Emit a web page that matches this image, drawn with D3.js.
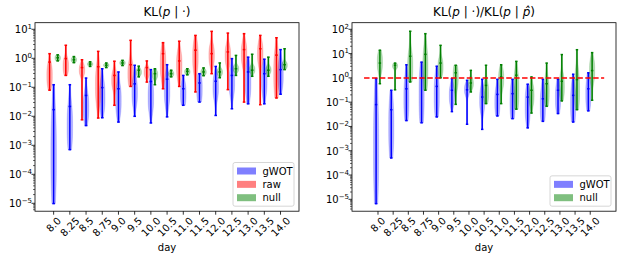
<!DOCTYPE html>
<html>
<head>
<meta charset="utf-8">
<script src="https://cdn.jsdelivr.net/npm/d3@7"></script>
<style>
  body { margin: 0; background: #fff; }
  svg { display: block; font-family: "DejaVu Sans", sans-serif; }
</style>
</head>
<body>
<svg id="chart" width="623" height="259"></svg>
<script>
const days = ["8.0", "8.25", "8.5", "8.75", "9.0", "9.5", "10.0", "10.5", "11.0", "11.5", "12.0", "12.5", "13.0", "13.5", "14.0"];

// one violin per day, log10 values: [min, max, mid mark, body top, body bottom]
const klGwot = [
  [-5.01, -0.91, -1.77, -1.8, -4.9],
  [-3.15, -0.91, -1.66, -1.6, -3.1],
  [-2.32, -0.68, -1.28, -1.2, -2.2],
  [-2.05, -0.36, -1.01, -0.8, -1.86],
  [-2.2, -0.47, -1.05, -0.94, -1.97],
  [-2.0, -0.24, -0.88, -0.7, -1.63],
  [-2.23, -0.39, -0.8, -0.82, -1.86],
  [-2.02, -0.22, -0.72, -0.59, -1.63],
  [-1.62, -0.59, -1.05, -0.82, -1.63],
  [-1.51, -0.53, -0.85, -0.59, -1.51],
  [-1.97, -0.28, -0.79, -0.59, -1.4],
  [-1.74, -0.01, -0.59, -0.36, -1.28],
  [-1.57, 0.04, -0.47, -0.24, -1.4],
  [-1.57, -0.03, -0.53, -0.24, -1.28],
  [-1.24, 0.30, -0.39, -0.13, -1.05],
];
const klRaw = [
  [-1.10, 0.16, -0.13, -0.2, -1.0],
  [-0.59, 0.45, -0.01, 0.0, -0.55],
  [-2.12, -0.05, -0.32, -0.2, -0.6],
  [-2.06, 0.24, -0.29, -0.3, -1.6],
  [-1.62, -0.10, -0.59, -0.45, -1.05],
  [-0.97, 0.62, -0.22, -0.13, -0.94],
  [-0.82, -0.09, -0.32, -0.3, -0.65],
  [-1.05, 0.54, 0.16, 0.33, -0.70],
  [-0.97, 0.59, -0.09, 0.22, -0.70],
  [-1.16, 0.79, 0.28, 0.56, -0.47],
  [-0.53, 0.93, 0.16, 0.45, -0.24],
  [-1.08, 0.87, 0.22, 0.45, -0.24],
  [-1.51, 0.85, 0.30, 0.56, -0.24],
  [-1.60, 0.79, 0.33, 0.56, -0.24],
  [-1.37, 0.71, 0.11, 0.22, -1.28],
];
const klNull = [
  [-0.09, 0.12, 0.02, 0.1, -0.08],
  [-0.15, 0.06, -0.05, 0.03, -0.13],
  [-0.28, -0.12, -0.2, -0.14, -0.26],
  [-0.32, -0.16, -0.24, -0.18, -0.3],
  [-0.25, -0.07, -0.16, -0.09, -0.23],
  [-0.64, -0.27, -0.41, -0.36, -0.59],
  [-0.91, -0.36, -0.53, -0.41, -0.7],
  [-0.64, -0.41, -0.53, -0.45, -0.62],
  [-0.57, -0.36, -0.45, -0.38, -0.55],
  [-0.6, -0.33, -0.47, -0.38, -0.57],
  [-0.67, -0.16, -0.47, -0.36, -0.59],
  [-0.59, 0.10, -0.36, -0.24, -0.47],
  [-0.62, 0.14, -0.41, -0.26, -0.52],
  [-0.62, 0.04, -0.41, -0.28, -0.52],
  [-0.39, 0.33, -0.22, -0.13, -0.36],
];
const ratioGwot = [
  [-5.18, -0.03, -1.10, -0.72, -5.1],
  [-3.30, -0.51, -1.31, -0.85, -3.19],
  [-1.76, 0.54, -0.45, -0.03, -1.68],
  [-1.85, 0.65, 0.0, 0.38, -1.82],
  [-1.61, 0.48, -0.35, 0.1, -1.54],
  [-1.39, -0.03, -0.51, -0.3, -1.13],
  [-1.91, -0.10, -0.49, -0.24, -0.72],
  [-2.12, -0.06, -0.79, -0.44, -1.4],
  [-1.57, -0.06, -0.68, -0.44, -1.54],
  [-1.68, -0.06, -0.65, -0.3, -1.68],
  [-2.06, -0.26, -0.79, -0.44, -1.82],
  [-1.79, -0.06, -0.86, -0.44, -1.82],
  [-1.47, -0.06, -0.51, -0.24, -1.4],
  [-1.82, 0.15, -0.72, -0.3, -1.82],
  [-1.36, 0.21, -0.45, -0.03, -1.27],
];
const ratioNull = [
  [-0.24, 1.14, 0.61, 1.06, 0.24],
  [-0.49, 0.61, 0.52, 0.6, 0.38],
  [-0.17, 1.92, 0.89, 1.06, -0.17],
  [-0.51, 1.82, 0.97, 1.2, -0.44],
  [0.0, 1.34, 0.61, 0.79, 0.1],
  [-1.09, 0.52, 0.21, 0.52, -0.44],
  [-0.58, 0.31, -0.21, -0.03, -0.44],
  [-1.06, 0.52, -0.31, -0.17, -1.06],
  [-1.06, 0.54, 0.04, 0.38, -0.44],
  [-1.29, 0.68, 0.11, 0.24, -1.27],
  [-1.45, 0.04, -0.51, -0.3, -1.13],
  [-1.17, 0.61, -0.24, -0.03, -1.13],
  [-0.95, 0.96, -0.14, 0.1, -0.85],
  [-1.31, 1.16, -0.07, 0.24, -1.27],
  [-0.92, 1.04, 0.3, 0.79, -0.17],
];
const refValue = 1;
const refSpan = [-0.92, 14.92];

const BLUE = "#0000ff", RED = "#ff0000", GREEN = "#008000";
const HALF = 0.17;  // body half width (x units)
const CAP = 0.08;   // cap half width

const svg = d3.select("#chart");

function drawViolin(g, x, y, pos, v, color) {
  const [lo, hi, mid, bt, bb] = v;
  const c = (bt + bb) / 2, s = Math.max((bt - bb) / 2, 0.05);
  const pts = d3.range(41).map(k => {
    const t = lo + (hi - lo) * k / 40;
    const z = Math.abs((t - c) / s);
    return { t, w: HALF * (0.22 + 0.78 * Math.exp(-0.5 * z ** 3)) };
  });
  g.append("path").datum(pts)
    .attr("d", d3.area()
      .x0(d => x(pos - d.w)).x1(d => x(pos + d.w))
      .y(d => y(10 ** d.t)).curve(d3.curveBasis))
    .attr("fill", color).attr("fill-opacity", 0.3)
    .attr("stroke", color).attr("stroke-opacity", 0.25).attr("stroke-width", 0.6);

  g.append("line")
    .attr("x1", x(pos)).attr("x2", x(pos))
    .attr("y1", y(10 ** lo)).attr("y2", y(10 ** hi))
    .attr("stroke", color).attr("stroke-width", 1.5);
  for (const t of [lo, hi, mid]) {
    g.append("line")
      .attr("x1", x(pos - CAP)).attr("x2", x(pos + CAP))
      .attr("y1", y(10 ** t)).attr("y2", y(10 ** t))
      .attr("stroke", color).attr("stroke-width", 1.5);
  }
}

function supLabel(sel, e) {
  sel.append("tspan").text("10");
  sel.append("tspan").attr("dy", -4.5).attr("font-size", 7)
    .text(e < 0 ? "\u2212" + Math.abs(e) : String(e));
}

function drawPanel(p) {
  const x = d3.scaleLinear().domain(p.xDom).range([p.left, p.right]);
  const y = d3.scaleLog().domain(p.yDom).range([p.bottom, p.top]);
  const g = svg.append("g");

  p.series.forEach(s => {
    s.data.forEach((v, i) => drawViolin(g, x, y, i + s.offset, v, s.color));
  });

  if (p.ref) {
    g.append("line")
      .attr("x1", x(refSpan[0])).attr("x2", x(refSpan[1]))
      .attr("y1", y(refValue)).attr("y2", y(refValue))
      .attr("stroke", RED).attr("stroke-width", 1.5)
      .attr("stroke-dasharray", "5.5,2.4");
  }

  // frame
  g.append("rect")
    .attr("x", p.left).attr("y", p.top)
    .attr("width", p.right - p.left).attr("height", p.bottom - p.top)
    .attr("fill", "none").attr("stroke", "#000").attr("stroke-width", 0.8);

  // y ticks (log)
  const all = y.ticks();
  all.forEach(v => {
    const e = Math.round(Math.log10(v));
    const major = Math.abs(v / 10 ** e - 1) < 1e-6;
    const yy = y(v);
    g.append("line")
      .attr("x1", p.left).attr("x2", p.left - (major ? 3.5 : 2))
      .attr("y1", yy).attr("y2", yy)
      .attr("stroke", "#000").attr("stroke-width", major ? 0.8 : 0.6);
    if (major) {
      const t = g.append("text")
        .attr("x", p.left - 3).attr("y", yy + 4)
        .attr("text-anchor", "end").attr("font-size", 10).attr("fill", "#000");
      supLabel(t, e);
    }
  });

  // x ticks, rotated labels
  days.forEach((d, i) => {
    const xx = x(i);
    g.append("line")
      .attr("x1", xx).attr("x2", xx)
      .attr("y1", p.bottom).attr("y2", p.bottom + 3.5)
      .attr("stroke", "#000").attr("stroke-width", 0.8);
    const t = g.append("text")
      .attr("text-anchor", "middle").attr("dominant-baseline", "central")
      .attr("font-size", 10).attr("fill", "#000").text(d);
    const w = t.node().getComputedTextLength();
    const cy = p.bottom + 4 + (w + 11) / (2 * Math.SQRT2);
    t.attr("transform", `translate(${xx},${cy}) rotate(-45)`);
  });

  g.append("text")
    .attr("x", (p.left + p.right) / 2).attr("y", 251)
    .attr("text-anchor", "middle").attr("font-size", 10).text("day");

  // title
  const tt = g.append("text")
    .attr("x", (p.left + p.right) / 2).attr("y", 16)
    .attr("text-anchor", "middle").attr("font-size", 12);
  p.title.forEach(part => {
    const sp = tt.append("tspan").text(part.t);
    if (part.i) sp.attr("font-style", "italic");
  });

  // legend, lower right
  const n = p.series.length;
  const lw = 61, lh = 17 + (n - 1) * 13.35;
  const lx = p.right - 5 - lw, ly = p.bottom - 5 - lh;
  const lg = g.append("g").attr("transform", `translate(${lx},${ly})`);
  lg.append("rect").attr("width", lw).attr("height", lh).attr("rx", 2)
    .attr("fill", "#fff").attr("fill-opacity", 0.8)
    .attr("stroke", "#cccccc").attr("stroke-width", 0.8);
  p.series.forEach((s, k) => {
    const cy = 8.5 + k * 13.35;
    lg.append("rect").attr("x", 4).attr("y", cy - 3.5).attr("width", 19).attr("height", 7)
      .attr("fill", s.color).attr("fill-opacity", 0.5);
    lg.append("text").attr("x", 29.5).attr("y", cy + 3.6)
      .attr("font-size", 10).text(s.label);
  });
}

drawPanel({
  left: 35, right: 299, top: 22.7, bottom: 211.2,
  xDom: [-1.15, 15.14], yDom: [10 ** -5.272, 10 ** 1.228],
  title: [{ t: "KL(" }, { t: "p", i: true }, { t: " | \u00b7)" }],
  series: [
    { label: "gWOT", color: BLUE, data: klGwot, offset: 0 },
    { label: "raw", color: RED, data: klRaw, offset: -0.25 },
    { label: "null", color: GREEN, data: klNull, offset: 0.25 },
  ],
});

drawPanel({
  left: 352, right: 616, top: 22.7, bottom: 211.2,
  xDom: [-1.715, 15.7], yDom: [10 ** -5.489, 10 ** 2.272],
  ref: true,
  title: [{ t: "KL(" }, { t: "p", i: true }, { t: " | \u00b7)/KL(" }, { t: "p", i: true },
          { t: " | " }, { t: "p\u0302", i: true }, { t: ")" }],
  series: [
    { label: "gWOT", color: BLUE, data: ratioGwot, offset: -0.125 },
    { label: "null", color: GREEN, data: ratioNull, offset: 0.125 },
  ],
});
</script>
</body>
</html>
